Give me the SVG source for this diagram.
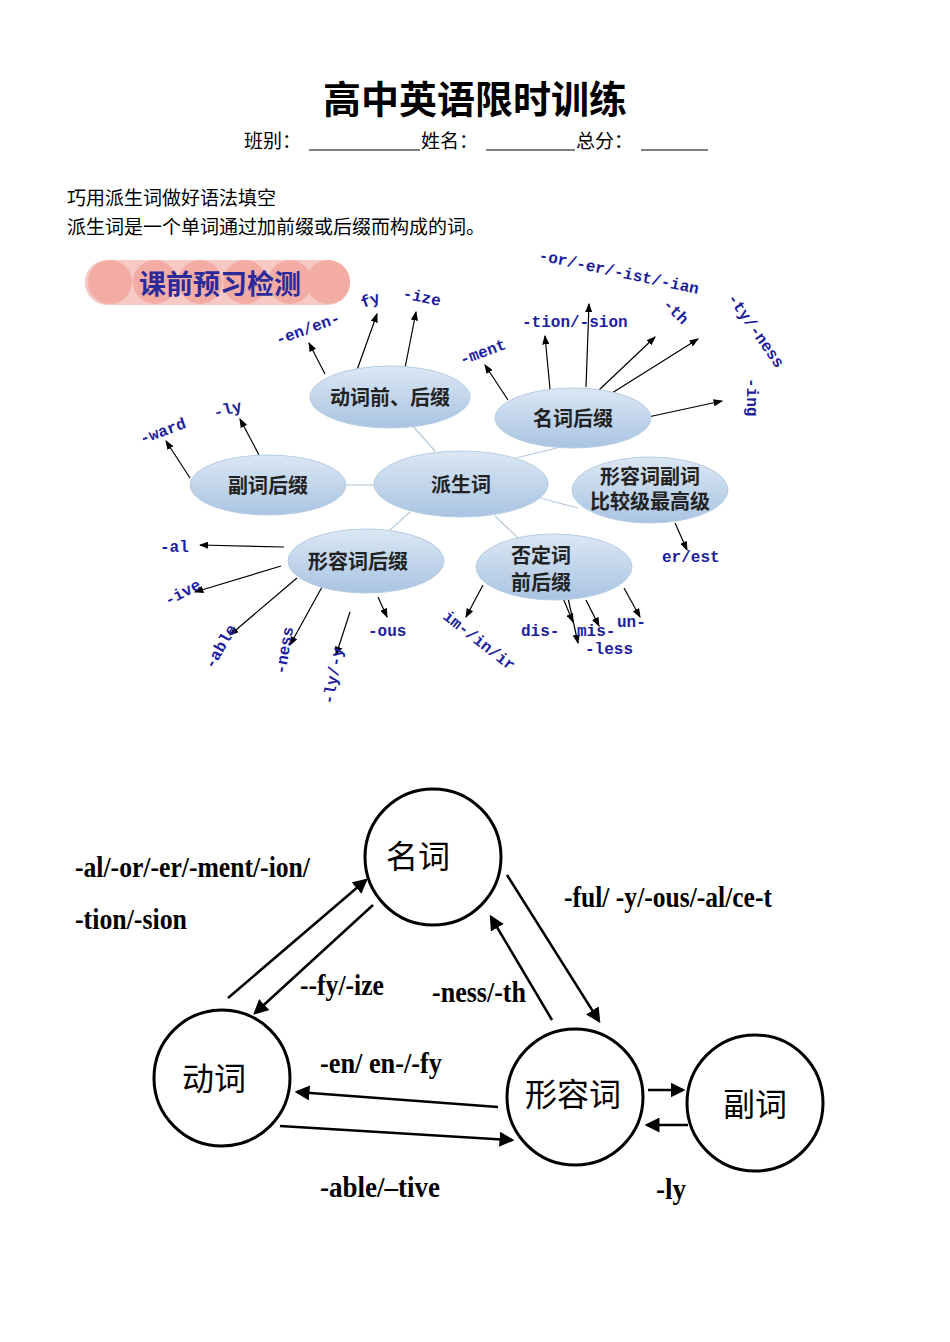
<svg xmlns="http://www.w3.org/2000/svg" width="950" height="1342" viewBox="0 0 950 1342">
<defs>
<style>
.cj{font-family:"Noto Sans CJK SC",sans-serif;fill:#000}
.el{fill:url(#g);stroke:#b7cde3;stroke-width:1}
.nl{font-family:"Noto Sans CJK SC",sans-serif;font-weight:bold;font-size:20px;fill:#222}
.suf{font-family:"Liberation Mono","DejaVu Sans Mono",monospace;font-weight:bold;font-size:16px;fill:#1d1da0}
.ln{stroke:#000;stroke-width:1.2;fill:none;marker-end:url(#a)}
.cl{stroke:#b8cadb;stroke-width:1.2}
.cir{fill:#fff;stroke:#000;stroke-width:3}
.bl{font-family:"Noto Sans CJK SC",sans-serif;font-size:32px;fill:#000}
.tl{font-family:"Liberation Serif",serif;font-size:30px;font-weight:bold;fill:#000}
.ar{stroke:#000;stroke-width:2.5;fill:none;marker-end:url(#b)}
</style>
<linearGradient id="g" x1="0" y1="0" x2="0" y2="1"><stop offset="0" stop-color="#dbe7f4"/><stop offset="1" stop-color="#a9c4e2"/></linearGradient>
<marker id="a" markerWidth="8" markerHeight="6" refX="7" refY="3" orient="auto"><path d="M0,0L8,3L0,6z" fill="#000"/></marker>
<marker id="b" markerWidth="6" markerHeight="6" refX="5" refY="3" orient="auto" markerUnits="strokeWidth"><path d="M0,0L6,3L0,6z" fill="#000"/></marker>
</defs>
<rect width="950" height="1342" fill="#fff"/>
<text class="cj" x="475" y="113" font-size="38" font-weight="bold" text-anchor="middle">高中英语限时训练</text>
<text class="cj" x="244" y="148" font-size="19">班别：</text>
<line x1="309" y1="150" x2="420" y2="150" stroke="#000"/>
<text class="cj" x="421" y="148" font-size="19">姓名：</text>
<line x1="486" y1="150" x2="575" y2="150" stroke="#000"/>
<text class="cj" x="576" y="148" font-size="19">总分：</text>
<line x1="641" y1="150" x2="708" y2="150" stroke="#000"/>
<text class="cj" x="67" y="205" font-size="19">巧用派生词做好语法填空</text>
<text class="cj" x="67" y="234" font-size="19">派生词是一个单词通过加前缀或后缀而构成的词。</text>

<g id="banner">
<rect x="85" y="260" width="265" height="45" rx="22" fill="#f6c9c4"/>
<g fill="#f2a69d" opacity="0.8"><circle cx="110" cy="282" r="22"/><circle cx="155" cy="282" r="22"/><circle cx="200" cy="282" r="22"/><circle cx="245" cy="282" r="22"/><circle cx="290" cy="282" r="22"/><circle cx="328" cy="282" r="22"/></g>
<text x="220" y="294" font-family="Noto Sans CJK SC,sans-serif" font-weight="bold" font-size="27" fill="#2a2a9a" text-anchor="middle">课前预习检测</text>
</g>

<g id="mindmap-lines">
<line class="cl" x1="412" y1="425" x2="435" y2="451"/>
<line class="cl" x1="512" y1="459" x2="557" y2="448"/>
<line class="cl" x1="346" y1="485" x2="374" y2="485"/>
<line class="cl" x1="540" y1="498" x2="578" y2="508"/>
<line class="cl" x1="410" y1="512" x2="390" y2="530"/>
<line class="cl" x1="495" y1="516" x2="520" y2="540"/>
<line class="ln" x1="325" y1="374" x2="309" y2="343"/>
<line class="ln" x1="357" y1="370" x2="377" y2="314"/>
<line class="ln" x1="405" y1="368" x2="416" y2="312"/>
<line class="ln" x1="508" y1="400" x2="485" y2="365"/>
<line class="ln" x1="550" y1="389" x2="545" y2="336"/>
<line class="ln" x1="586" y1="387" x2="589" y2="304"/>
<line class="ln" x1="599" y1="390" x2="655" y2="337"/>
<line class="ln" x1="612" y1="393" x2="698" y2="339"/>
<line class="ln" x1="648" y1="417" x2="722" y2="401"/>
<line class="ln" x1="259" y1="455" x2="240" y2="419"/>
<line class="ln" x1="190" y1="478" x2="166" y2="441"/>
<line class="ln" x1="284" y1="547" x2="200" y2="545"/>
<line class="ln" x1="281" y1="566" x2="195" y2="592"/>
<line class="ln" x1="297" y1="578" x2="230" y2="635"/>
<line class="ln" x1="322" y1="587" x2="290" y2="645"/>
<line class="ln" x1="350" y1="612" x2="336" y2="655"/>
<line class="ln" x1="378" y1="597" x2="387" y2="617"/>
<line class="ln" x1="483" y1="585" x2="466" y2="617"/>
<line class="ln" x1="563" y1="598" x2="573" y2="622"/>
<line class="ln" x1="586" y1="600" x2="599" y2="626"/>
<line class="ln" x1="568" y1="598" x2="578" y2="643"/>
<line class="ln" x1="624" y1="588" x2="640" y2="617"/>
<line class="ln" x1="675" y1="523" x2="687" y2="550"/>
</g>

<g id="n-verb"><ellipse class="el" cx="390" cy="397" rx="80" ry="31"/><text class="nl" x="390" y="405" text-anchor="middle">动词前、后缀</text></g>
<g id="n-noun"><ellipse class="el" cx="573" cy="418" rx="78" ry="30"/><text class="nl" x="573" y="426" text-anchor="middle">名词后缀</text></g>
<g id="n-center"><ellipse class="el" cx="461" cy="484" rx="87" ry="33"/><text class="nl" x="461" y="492" text-anchor="middle">派生词</text></g>
<g id="n-adv"><ellipse class="el" cx="268" cy="485" rx="78" ry="30"/><text class="nl" x="268" y="493" text-anchor="middle">副词后缀</text></g>
<g id="n-comp"><ellipse class="el" cx="650" cy="490" rx="78" ry="33"/><text class="nl" x="650" y="484" text-anchor="middle" font-size="15">形容词副词</text><text class="nl" x="650" y="509" text-anchor="middle" font-size="15">比较级最高级</text></g>
<g id="n-adj"><ellipse class="el" cx="366" cy="561" rx="78" ry="32"/><text class="nl" x="358" y="569" text-anchor="middle">形容词后缀</text></g>
<g id="n-neg"><ellipse class="el" cx="554" cy="567" rx="78" ry="33"/><text class="nl" x="541" y="563" text-anchor="middle" font-size="19">否定词</text><text class="nl" x="541" y="590" text-anchor="middle" font-size="19">前后缀</text></g>

<g id="suffixes">
<text class="suf" transform="translate(278,345) rotate(-20)">-en/en-</text>
<text class="suf" transform="translate(363,308) rotate(-20)">fy</text>
<text class="suf" transform="translate(402,298) rotate(12)">-ize</text>
<text class="suf" transform="translate(462,365) rotate(-20)">-ment</text>
<text class="suf" x="522" y="327">-tion/-sion</text>
<text class="suf" transform="translate(538,260) rotate(12)">-or/-er/-ist/-ian</text>
<text class="suf" transform="translate(662,305) rotate(45)">-th</text>
<text class="suf" transform="translate(727,298) rotate(55)">-ty/-ness</text>
<text class="suf" transform="translate(747,378) rotate(90)">-ing</text>
<text class="suf" transform="translate(142,444) rotate(-20)">-ward</text>
<text class="suf" transform="translate(215,418) rotate(-15)">-ly</text>
<text class="suf" x="160" y="552">-al</text>
<text class="suf" transform="translate(168,606) rotate(-28)">-ive</text>
<text class="suf" transform="translate(213,670) rotate(-60)">-able</text>
<text class="suf" transform="translate(285,675) rotate(-80)">-ness</text>
<text class="suf" transform="translate(333,705) rotate(-80)">-ly/-y</text>
<text class="suf" x="368" y="636">-ous</text>
<text class="suf" transform="translate(442,618) rotate(38)">im-/in/ir</text>
<text class="suf" x="521" y="636">dis-</text>
<text class="suf" x="577" y="636">mis-</text>
<text class="suf" x="585" y="654">-less</text>
<text class="suf" x="617" y="627">un-</text>
<text class="suf" x="662" y="562">er/est</text>
</g>

<g id="connectors">
<line class="ar" x1="228" y1="998" x2="366" y2="880"/>
<line class="ar" x1="373" y1="905" x2="255" y2="1013"/>
<line class="ar" x1="507" y1="875" x2="599" y2="1021"/>
<line class="ar" x1="552" y1="1020" x2="491" y2="917"/>
<line class="ar" x1="498" y1="1107" x2="297" y2="1092"/>
<line class="ar" x1="280" y1="1126" x2="512" y2="1140"/>
<line class="ar" x1="648" y1="1090" x2="683" y2="1090" stroke-width="4"/>
<line class="ar" x1="688" y1="1125" x2="647" y2="1125" stroke-width="4"/>
</g>
<g id="c-noun"><circle class="cir" cx="433" cy="857" r="68"/><text class="bl" x="418" y="868" text-anchor="middle">名词</text></g>
<g id="c-verb"><circle class="cir" cx="222" cy="1078" r="68"/><text class="bl" x="214" y="1090" text-anchor="middle">动词</text></g>
<g id="c-adj"><circle class="cir" cx="575" cy="1097" r="68"/><text class="bl" x="573" y="1106" text-anchor="middle">形容词</text></g>
<g id="c-adv"><circle class="cir" cx="755" cy="1103" r="68"/><text class="bl" x="755" y="1116" text-anchor="middle">副词</text></g>

<g id="edge-labels">
<text class="tl" x="75" y="877" textLength="235" lengthAdjust="spacingAndGlyphs">-al/-or/-er/-ment/-ion/</text>
<text class="tl" x="75" y="929" textLength="112" lengthAdjust="spacingAndGlyphs">-tion/-sion</text>
<text class="tl" x="300" y="995" textLength="84" lengthAdjust="spacingAndGlyphs">--fy/-ize</text>
<text class="tl" x="432" y="1002" textLength="94" lengthAdjust="spacingAndGlyphs">-ness/-th</text>
<text class="tl" x="564" y="907" textLength="208" lengthAdjust="spacingAndGlyphs">-ful/ -y/-ous/-al/ce-t</text>
<text class="tl" x="320" y="1073" textLength="122" lengthAdjust="spacingAndGlyphs">-en/ en-/-fy</text>
<text class="tl" x="320" y="1197" textLength="120" lengthAdjust="spacingAndGlyphs">-able/–tive</text>
<text class="tl" x="656" y="1199" textLength="30" lengthAdjust="spacingAndGlyphs">-ly</text>
</g>
</svg>
